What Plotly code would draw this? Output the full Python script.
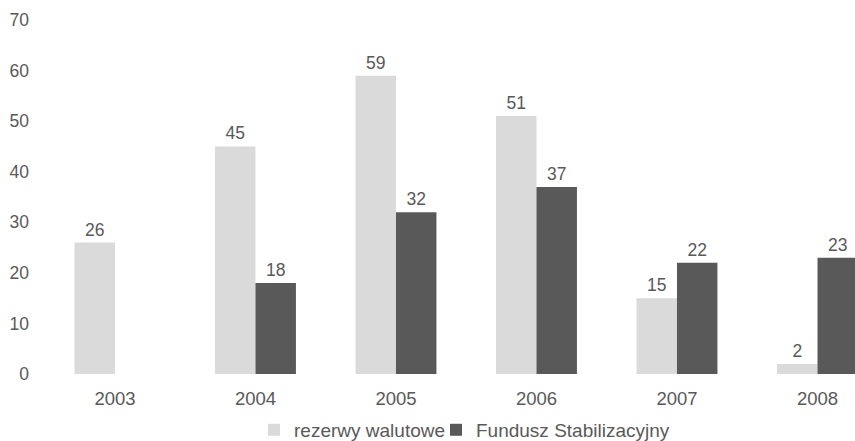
import plotly.graph_objects as go

years = ["2003", "2004", "2005", "2006", "2007", "2008"]
rezerwy = [26, 45, 59, 51, 15, 2]
fundusz = [None, 18, 32, 37, 22, 23]

series_names = ["rezerwy walutowe", "Fundusz Stabilizacyjny"]
legend_ids = ["legend", "legend2"]
colors = ["#dadada", "#595959"]
text_color = "#595959"
font_family = "Liberation Sans, Arial, sans-serif"

fig = go.Figure()
for name, vals, col, lg in zip(series_names, [rezerwy, fundusz], colors, legend_ids):
    fig.add_trace(go.Bar(
        x=years,
        y=vals,
        name=name,
        legend=lg,
        marker=dict(color=col, line=dict(width=0)),
        text=["" if v is None else str(v) for v in vals],
        textposition="outside",
        textfont=dict(color=text_color, size=17.5, family=font_family),
        cliponaxis=False,
    ))

legend_style = dict(
    orientation="h",
    y=-0.158, yanchor="middle",
    xanchor="left",
    font=dict(size=19, color=text_color),
    bgcolor="rgba(0,0,0,0)",
    itemwidth=30,
)

fig.update_layout(
    width=855,
    height=441,
    margin=dict(l=36, r=0, t=20, b=67, autoexpand=False),
    paper_bgcolor="white",
    plot_bgcolor="white",
    barmode="group",
    bargap=0.424,
    bargroupgap=0,
    font=dict(family=font_family, size=17.5, color=text_color),
    showlegend=True,
    legend=dict(x=0.2662, **legend_style),
    legend2=dict(x=0.4884, **legend_style),
    xaxis=dict(
        type="category",
        range=[-0.562, 5.267],
        showgrid=False, showline=False, zeroline=False,
        ticks="", ticklabelstandoff=11,
        tickfont=dict(size=18.5),
    ),
    yaxis=dict(
        range=[0, 70],
        tickvals=[0, 10, 20, 30, 40, 50, 60, 70],
        showgrid=False, showline=False, zeroline=False,
        ticks="", ticklabelstandoff=6,
        tickfont=dict(size=17.5),
    ),
)

fig.write_html("out.html")
